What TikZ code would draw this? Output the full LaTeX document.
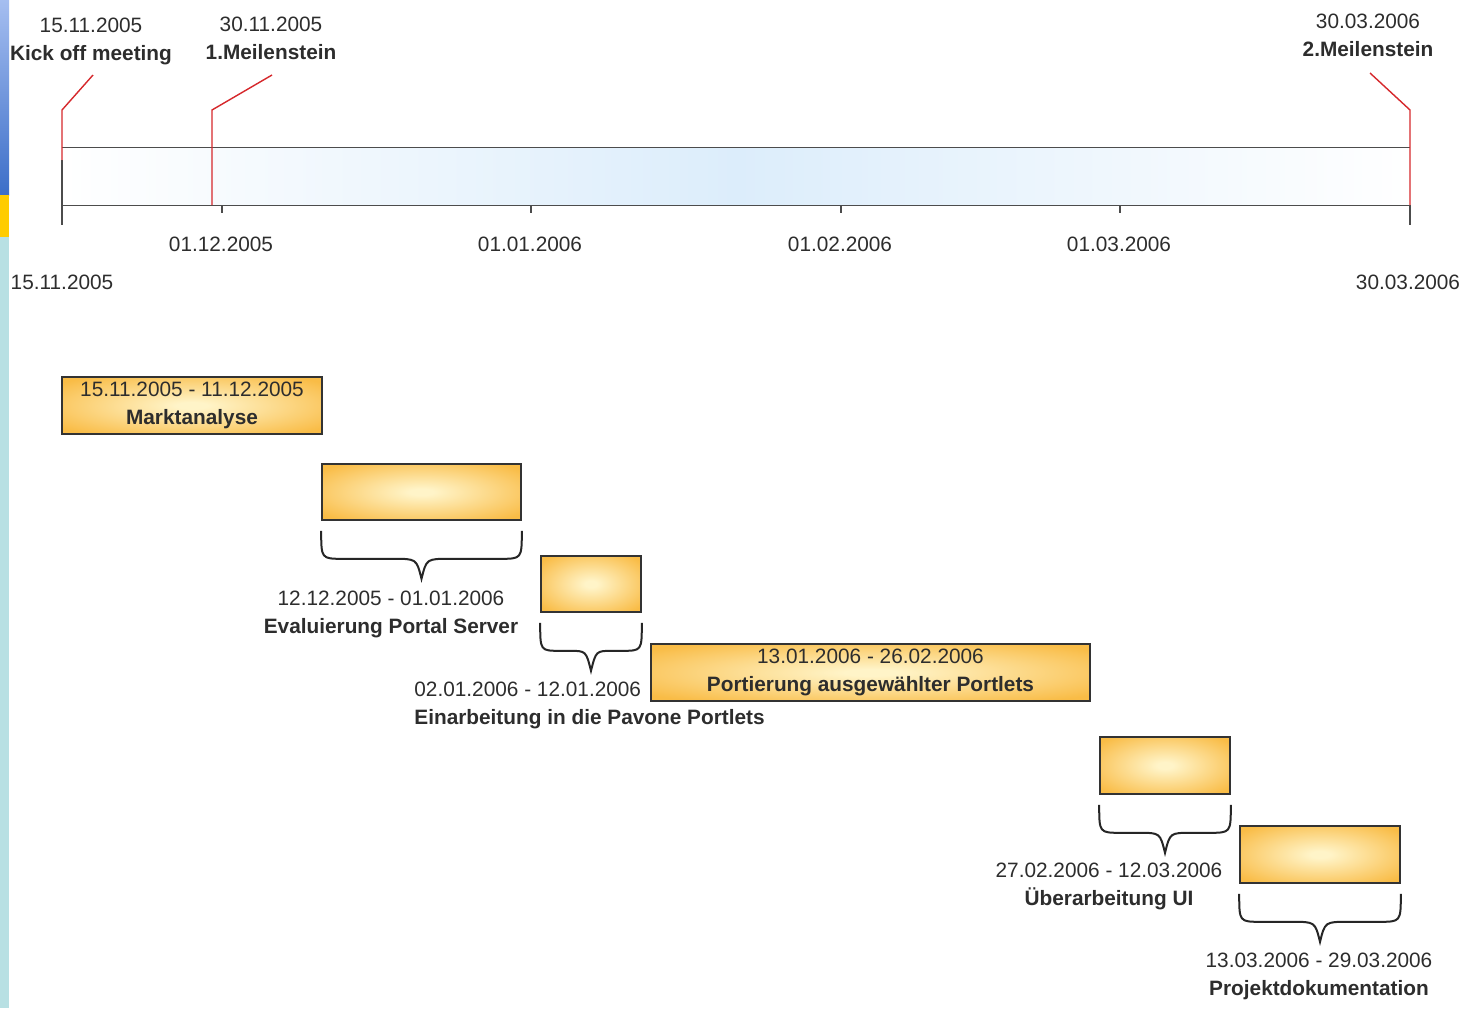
\documentclass[tikz,border=0pt]{standalone}
\usepackage{fontspec}
\setmainfont{Liberation Sans}
\usetikzlibrary{positioning,calc}

\definecolor{barorange}{RGB}{249,188,70}
\definecolor{barlight}{RGB}{255,244,200}
\definecolor{axisblue}{RGB}{220,237,251}
\definecolor{msred}{RGB}{214,40,44}
\definecolor{txtgray}{RGB}{45,45,45}
\definecolor{edgetop}{RGB}{165,190,240}
\definecolor{edgeblue}{RGB}{60,110,200}
\definecolor{edgeyellow}{RGB}{255,204,0}
\definecolor{edgeteal}{RGB}{184,224,227}

\pgfdeclareradialshading[barlight,barorange]{barglow}{\pgfpoint{0bp}{0bp}}{%
    color(0bp)=(barlight); color(3bp)=(barlight); color(32bp)=(barorange); color(50bp)=(barorange)}

\tikzset{
    txt/.style={font=\fontsize{10.4}{14}\selectfont, text=txtgray, inner sep=0pt, align=center},
    bar/.style={draw=black!80, line width=0.8pt, shading=barglow,
        inner sep=0pt, align=center, font=\fontsize{10.4}{14}\selectfont, text=txtgray},
    band/.style={shading=axis, left color=white, right color=white, middle color=axisblue, inner sep=0pt},
    axisline/.style={draw=black!70, line width=0.8pt},
    msline/.style={draw=msred, line width=0.7pt},
    bracket/.style={draw=black!85, line width=1pt},
}

% curly bracket under a bar: node, corner radius, tip half width
\newcommand{\gbrace}[3]{
    \draw[bracket] ($(#1.south west)+(0,10)$) .. controls ($(#1.south west)+(0,38)$) .. ($(#1.south west)+(#2,38)$)
        -- ($(#1.south)+(-#3,38)$) .. controls ($(#1.south)+(-5,38)$) .. ($(#1.south)+(0,58)$)
        .. controls ($(#1.south)+(5,38)$) .. ($(#1.south)+(#3,38)$)
        -- ($(#1.south east)+(-#2,38)$) .. controls ($(#1.south east)+(0,38)$) .. ($(#1.south east)+(0,10)$);
}

\begin{document}
\begin{tikzpicture}[x=0.5pt, y=-0.5pt]
    \useasboundingbox (0,0) rectangle (1476,1008);
    \fill[white] (0,0) rectangle (1476,1008);

    % slide edge
    \shade[top color=edgetop, bottom color=edgeblue] (0,0) rectangle (9,195);
    \fill[edgeyellow] (0,195) rectangle (9,237);
    \fill[edgeteal] (0,237) rectangle (9,1008);

    % time axis
    \node[band, minimum width=674pt, minimum height=28.5pt] (axis) at (736,176.5) {};
    \draw[axisline] (axis.north west) -- (axis.north east);
    \draw[axisline] (axis.south west) -- (axis.south east);
    \draw[axisline] (62,160) -- (62,225);
    \draw[axisline] (1410,205) -- (1410,225);
    \foreach \x/\d in {222/01.12.2005, 531/01.01.2006, 841/01.02.2006, 1120/01.03.2006} {
        \draw[axisline] (\x,205) -- (\x,213);
        \node[txt] (tick\x) at (\x-1,244) {\d};
    }
    \node[txt] (start) at (62,282) {15.11.2005};
    \node[txt] (end) at (1408,282) {30.03.2006};

    % milestones
    \node[txt] (kickoff) at (91,41) {15.11.2005\\\textbf{Kick off meeting}};
    \node[txt] (ms1) at (271,38) {30.11.2005\\\textbf{1.Meilenstein}};
    \node[txt] (ms2) at (1368,35) {30.03.2006\\\textbf{2.Meilenstein}};
    \coordinate (k1) at (93,75);
    \coordinate (m1) at (272,75);
    \coordinate (m2) at (1370,73);
    \draw[msline] (62,160) -- (62,110) -- (k1);
    \draw[msline] (212,205) -- (212,110) -- (m1);
    \draw[msline] (1410,205) -- (1410,110) -- (m2);

    % tasks
    \node[bar, minimum width=130pt, minimum height=28.5pt] (markt) at (192,405.5)
        {15.11.2005 - 11.12.2005\\\textbf{Marktanalyse}};
    \node[bar, minimum width=99.5pt, minimum height=28pt] (eval) at (421.5,492) {};
    \node[bar, minimum width=50pt, minimum height=28pt] (einarb) at (591,584) {};
    \node[bar, minimum width=219.5pt, minimum height=28.5pt] (port) at (870.5,672.5)
        {13.01.2006 - 26.02.2006\\\textbf{Portierung ausgewählter Portlets}};
    \node[bar, minimum width=65pt, minimum height=28.5pt] (ueber) at (1165,765.5) {};
    \node[bar, minimum width=80pt, minimum height=28.5pt] (doku) at (1320,854.5) {};

    \gbrace{eval}{22}{28}
    \gbrace{einarb}{20}{22}
    \gbrace{ueber}{22}{26}
    \gbrace{doku}{22}{28}

    \node[txt] (evallbl) at (391,614) {12.12.2005 - 01.01.2006\\\textbf{Evaluierung Portal Server}};
    \node[txt, anchor=west, align=left] (einarblbl) at (414,705) {02.01.2006 - 12.01.2006\\\textbf{Einarbeitung in die Pavone Portlets}};
    \node[txt] (ueberlbl) at (1109,886) {27.02.2006 - 12.03.2006\\\textbf{Überarbeitung UI}};
    \node[txt] (dokulbl) at (1319,976) {13.03.2006 - 29.03.2006\\\textbf{Projektdokumentation}};
\end{tikzpicture}
\end{document}
